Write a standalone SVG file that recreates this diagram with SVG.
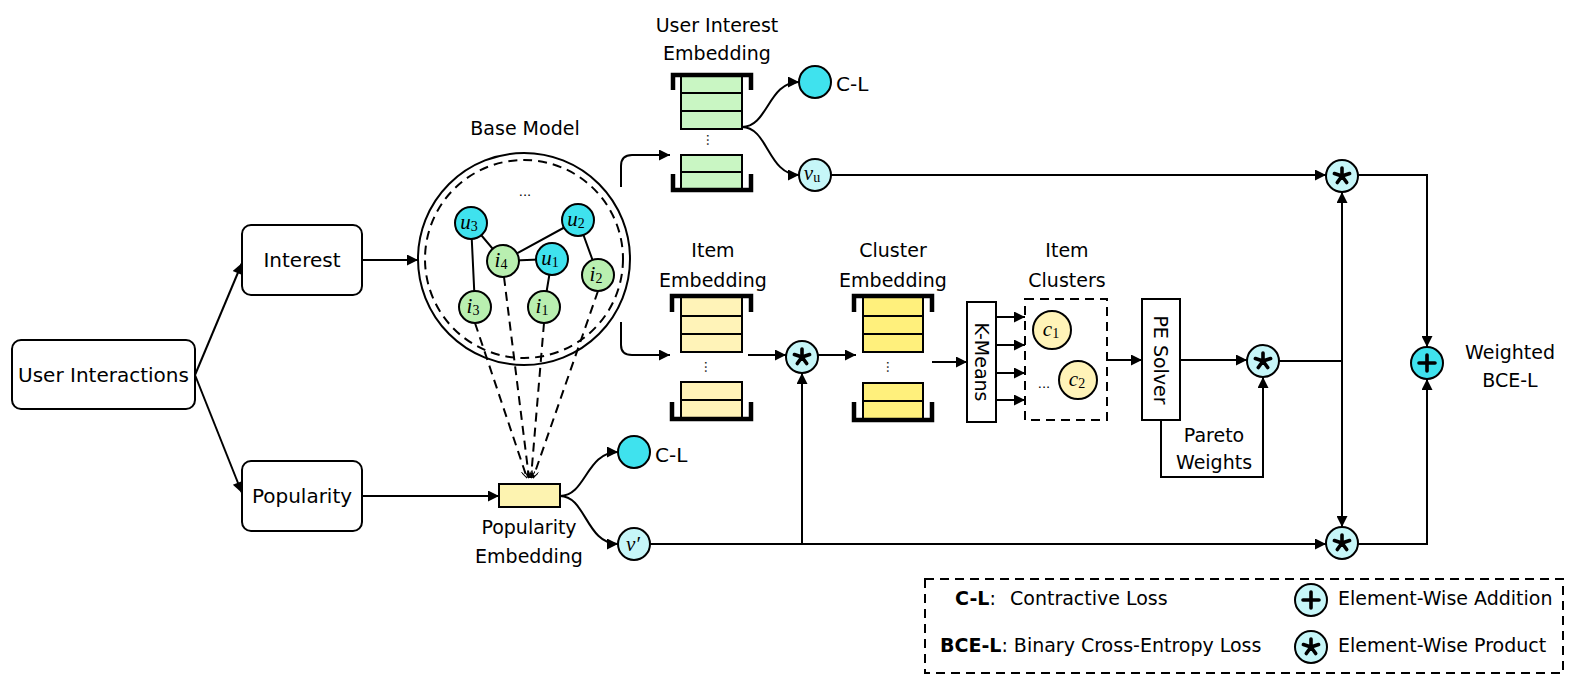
<svg xmlns="http://www.w3.org/2000/svg" xmlns:xlink="http://www.w3.org/1999/xlink" width="1582" height="694" viewBox="0 0 1582 694">
<style>
text{font-family:"Comic Sans MS","DejaVu Sans",sans-serif;font-size:19px;fill:#000;dominant-baseline:central}
.mid{text-anchor:middle}
.math{font-family:"Liberation Serif",serif;font-style:italic;font-size:21px}
.sub{font-family:"Liberation Serif",serif;font-style:normal;font-size:14px}
.box{fill:#fff;stroke:#000;stroke-width:2}
.ln{fill:none;stroke:#000;stroke-width:2}
.arr{fill:none;stroke:#000;stroke-width:2;marker-end:url(#ah)}
.dash{fill:none;stroke:#000;stroke-width:2;stroke-dasharray:9 6}
.cy{fill:#3fe2ee;stroke:#000;stroke-width:2}
.lc{fill:#c6f6f8;stroke:#000;stroke-width:2}
.gn{fill:#b9efb0;stroke:#000;stroke-width:2}
.ug{fill:#c9f6c3;stroke:#000;stroke-width:2}
.ly{fill:#fff3b8;stroke:#000;stroke-width:2}
.dy{fill:#fff07c;stroke:#000;stroke-width:2}
.brk{fill:none;stroke:#000;stroke-width:4.5}
.sym{fill:none;stroke:#000;stroke-width:3.6;stroke-linecap:round}
</style>
<defs>
<marker id="ah" viewBox="0 0 10 10" refX="10" refY="5" markerWidth="14" markerHeight="11" markerUnits="userSpaceOnUse" orient="auto">
<path d="M0,0L10,5L0,10z" fill="#000"/>
</marker>
<marker id="sa" viewBox="0 0 10 10" refX="10" refY="5" markerWidth="8" markerHeight="7" markerUnits="userSpaceOnUse" orient="auto">
<path d="M0,0L10,5L0,10" fill="none" stroke="#000" stroke-width="1.5"/>
</marker>
<g id="prod"><circle r="16" class="lc"/><path class="sym" d="M0,0V-8M0,0L7.6,-2.5M0,0L4.7,6.5M0,0L-4.7,6.5M0,0L-7.6,-2.5"/></g>
<g id="plusL"><circle r="16" class="lc"/><path class="sym" d="M-8,0H8M0,-8V8"/></g>
<g id="plusC"><circle r="16" class="cy"/><path class="sym" d="M-8,0H8M0,-8V8"/></g>
</defs>

<g id="connectors">
<path class="arr" d="M195,375L242,263"/>
<path class="arr" d="M195,375L242,493"/>
<path class="arr" d="M362,260H418"/>
<path class="arr" d="M362,496H499"/>
<path class="arr" d="M621,187V166Q621,155 632,155H670"/>
<path class="arr" d="M621,322V345Q621,355 632,355H670"/>
<path class="arr" d="M742,127C768,127 768,82 799,82"/>
<path class="arr" d="M742,127C768,127 768,175 799,175"/>
<path class="arr" d="M560,496C586,496 586,452 618,452"/>
<path class="arr" d="M560,496C586,496 586,544 618,544"/>
<path class="arr" d="M748,355H786"/>
<path class="arr" d="M818,355H856"/>
<path class="arr" d="M932,362H967"/>
<path class="arr" d="M996,317H1025"/>
<path class="arr" d="M996,345H1025"/>
<path class="arr" d="M996,373H1025"/>
<path class="arr" d="M996,400H1025"/>
<path class="arr" d="M1107,360H1142"/>
<path class="arr" d="M1180,360H1247"/>
<path class="arr" d="M1161,420V477H1263V377"/>
<path class="ln" d="M1279,361H1342"/>
<path class="arr" d="M1342,361V192"/>
<path class="arr" d="M1342,361V527"/>
<path class="arr" d="M831,175H1326"/>
<path class="arr" d="M650,544H1326"/>
<path class="arr" d="M802,544V373"/>
<path class="arr" d="M1358,175H1427V347"/>
<path class="arr" d="M1358,544H1427V379"/>
<path class="dash" marker-end="url(#sa)" d="M475,323L527,478"/>
<path class="dash" marker-end="url(#sa)" d="M504,277L529,478"/>
<path class="dash" marker-end="url(#sa)" d="M544,323L531,478"/>
<path class="dash" marker-end="url(#sa)" d="M598,291L533,478"/>
</g>

<g id="user-interactions"><rect class="box" x="12" y="340" width="183" height="69" rx="9"/><text class="mid" x="103.5" y="375" style="font-size:20px">User Interactions</text></g>
<g id="interest"><rect class="box" x="242" y="225" width="120" height="70" rx="9"/><text class="mid" x="302" y="260" style="font-size:20px">Interest</text></g>
<g id="popularity"><rect class="box" x="242" y="461" width="120" height="70" rx="9"/><text class="mid" x="302" y="496" style="font-size:20px">Popularity</text></g>

<g id="base-model">
<text class="mid" x="525" y="128">Base Model</text>
<circle cx="524" cy="259" r="106" class="ln"/>
<circle cx="524" cy="259" r="99" class="dash"/>
<text class="mid" x="525" y="191" style="font-size:13px">...</text>
<path class="ln" d="M471,223L475,307M471,223L503,261M503,261L578,220M503,261L552,259M552,259L544,307M578,220L598,275"/>
<g id="n-u3"><circle cx="471" cy="223" r="16" class="cy"/><text class="mid math" x="469" y="222">u<tspan class="sub" dy="4">3</tspan></text></g>
<g id="n-u2"><circle cx="578" cy="220" r="16" class="cy"/><text class="mid math" x="576" y="219">u<tspan class="sub" dy="4">2</tspan></text></g>
<g id="n-u1"><circle cx="552" cy="259" r="16" class="cy"/><text class="mid math" x="550" y="258">u<tspan class="sub" dy="4">1</tspan></text></g>
<g id="n-i4"><circle cx="503" cy="261" r="16" class="gn"/><text class="mid math" x="501" y="260">i<tspan class="sub" dy="4">4</tspan></text></g>
<g id="n-i2"><circle cx="598" cy="275" r="16" class="gn"/><text class="mid math" x="596" y="274">i<tspan class="sub" dy="4">2</tspan></text></g>
<g id="n-i3"><circle cx="475" cy="307" r="16" class="gn"/><text class="mid math" x="473" y="306">i<tspan class="sub" dy="4">3</tspan></text></g>
<g id="n-i1"><circle cx="544" cy="307" r="16" class="gn"/><text class="mid math" x="542" y="306">i<tspan class="sub" dy="4">1</tspan></text></g>
</g>

<g id="user-interest-embedding">
<text class="mid" x="717" y="25">User Interest</text>
<text class="mid" x="717" y="53">Embedding</text>
<rect class="ug" x="681" y="75" width="61" height="18"/>
<rect class="ug" x="681" y="93" width="61" height="18"/>
<rect class="ug" x="681" y="111" width="61" height="18"/>
<text class="mid" x="711" y="140" style="font-size:13px;writing-mode:vertical-rl">...</text>
<rect class="ug" x="681" y="155" width="61" height="17"/>
<rect class="ug" x="681" y="172" width="61" height="17"/>
<path class="brk" d="M673,90V75H751V90M673,174V190H751V174"/>
</g>

<g id="cl-top"><circle cx="815" cy="82" r="16" class="cy"/><text x="836" y="84" style="font-size:20px">C-L</text></g>
<g id="v-u"><circle cx="815" cy="175" r="16" class="lc"/><text class="mid math" x="812" y="173">v<tspan class="sub" dy="4">u</tspan></text></g>

<g id="popularity-embedding">
<rect x="499" y="484" width="61" height="23" style="fill:#fdf3b0;stroke:#000;stroke-width:2"/>
<text class="mid" x="529" y="527">Popularity</text>
<text class="mid" x="529" y="556">Embedding</text>
</g>
<g id="cl-bottom"><circle cx="634" cy="452" r="16" class="cy"/><text x="655" y="455" style="font-size:20px">C-L</text></g>
<g id="v-prime"><circle cx="634" cy="544" r="16" class="lc"/><text class="mid math" x="633" y="544">v′</text></g>

<g id="item-embedding">
<text class="mid" x="713" y="250">Item</text>
<text class="mid" x="713" y="280">Embedding</text>
<rect class="ly" x="681" y="297" width="61" height="19"/>
<rect class="ly" x="681" y="316" width="61" height="18"/>
<rect class="ly" x="681" y="334" width="61" height="18"/>
<text class="mid" x="709" y="367" style="font-size:13px;writing-mode:vertical-rl">...</text>
<rect class="ly" x="681" y="382" width="61" height="18"/>
<rect class="ly" x="681" y="400" width="61" height="18"/>
<path class="brk" d="M672,312V296H751V312M672,402V419H751V402"/>
</g>

<g id="prod-item"><use href="#prod" x="802" y="357"/></g>

<g id="cluster-embedding">
<text class="mid" x="893" y="250">Cluster</text>
<text class="mid" x="893" y="280">Embedding</text>
<rect class="dy" x="863" y="297" width="60" height="19"/>
<rect class="dy" x="863" y="316" width="60" height="18"/>
<rect class="dy" x="863" y="334" width="60" height="18"/>
<text class="mid" x="891" y="367" style="font-size:13px;writing-mode:vertical-rl">...</text>
<rect class="dy" x="863" y="383" width="60" height="18"/>
<rect class="dy" x="863" y="401" width="60" height="18"/>
<path class="brk" d="M854,312V296H932V312M854,402V420H932V402"/>
</g>

<g id="k-means"><rect class="box" x="967" y="302" width="29" height="120"/><text class="mid" x="981.5" y="362" transform="rotate(90 981.5 362)">K-Means</text></g>

<g id="item-clusters">
<text class="mid" x="1067" y="250">Item</text>
<text class="mid" x="1067" y="280">Clusters</text>
<rect class="dash" x="1025" y="299" width="82" height="121"/>
<circle cx="1052" cy="330" r="19" class="ly"/><text class="mid math" x="1051" y="329">c<tspan class="sub" dy="4">1</tspan></text>
<circle cx="1078" cy="380" r="19" class="ly"/><text class="mid math" x="1077" y="379">c<tspan class="sub" dy="4">2</tspan></text>
<text class="mid" x="1044" y="383" style="font-size:13px">...</text>
</g>

<g id="pe-solver"><rect class="box" x="1142" y="299" width="38" height="121"/><text class="mid" x="1161" y="360" transform="rotate(90 1161 360)">PE Solver</text></g>
<g id="pareto-label"><text class="mid" x="1214" y="435">Pareto</text><text class="mid" x="1214" y="462">Weights</text></g>
<g id="prod-pe"><use href="#prod" x="1263" y="361"/></g>
<g id="prod-top"><use href="#prod" x="1342" y="176"/></g>
<g id="prod-bottom"><use href="#prod" x="1342" y="543"/></g>
<g id="plus"><use href="#plusC" x="1427" y="363"/></g>
<g id="weighted-bce"><text class="mid" x="1510" y="352">Weighted</text><text class="mid" x="1510" y="380">BCE-L</text></g>

<g id="legend">
<rect class="dash" x="925" y="579" width="638" height="94"/>
<text x="955" y="598"><tspan font-weight="bold">C-L</tspan>:</text>
<text x="1010" y="598">Contractive Loss</text>
<text x="940" y="645"><tspan font-weight="bold">BCE-L</tspan>: Binary Cross-Entropy Loss</text>
<use href="#plusL" x="1311" y="600"/>
<text x="1338" y="598">Element-Wise Addition</text>
<use href="#prod" x="1311" y="647"/>
<text x="1338" y="645">Element-Wise Product</text>
</g>
</svg>
